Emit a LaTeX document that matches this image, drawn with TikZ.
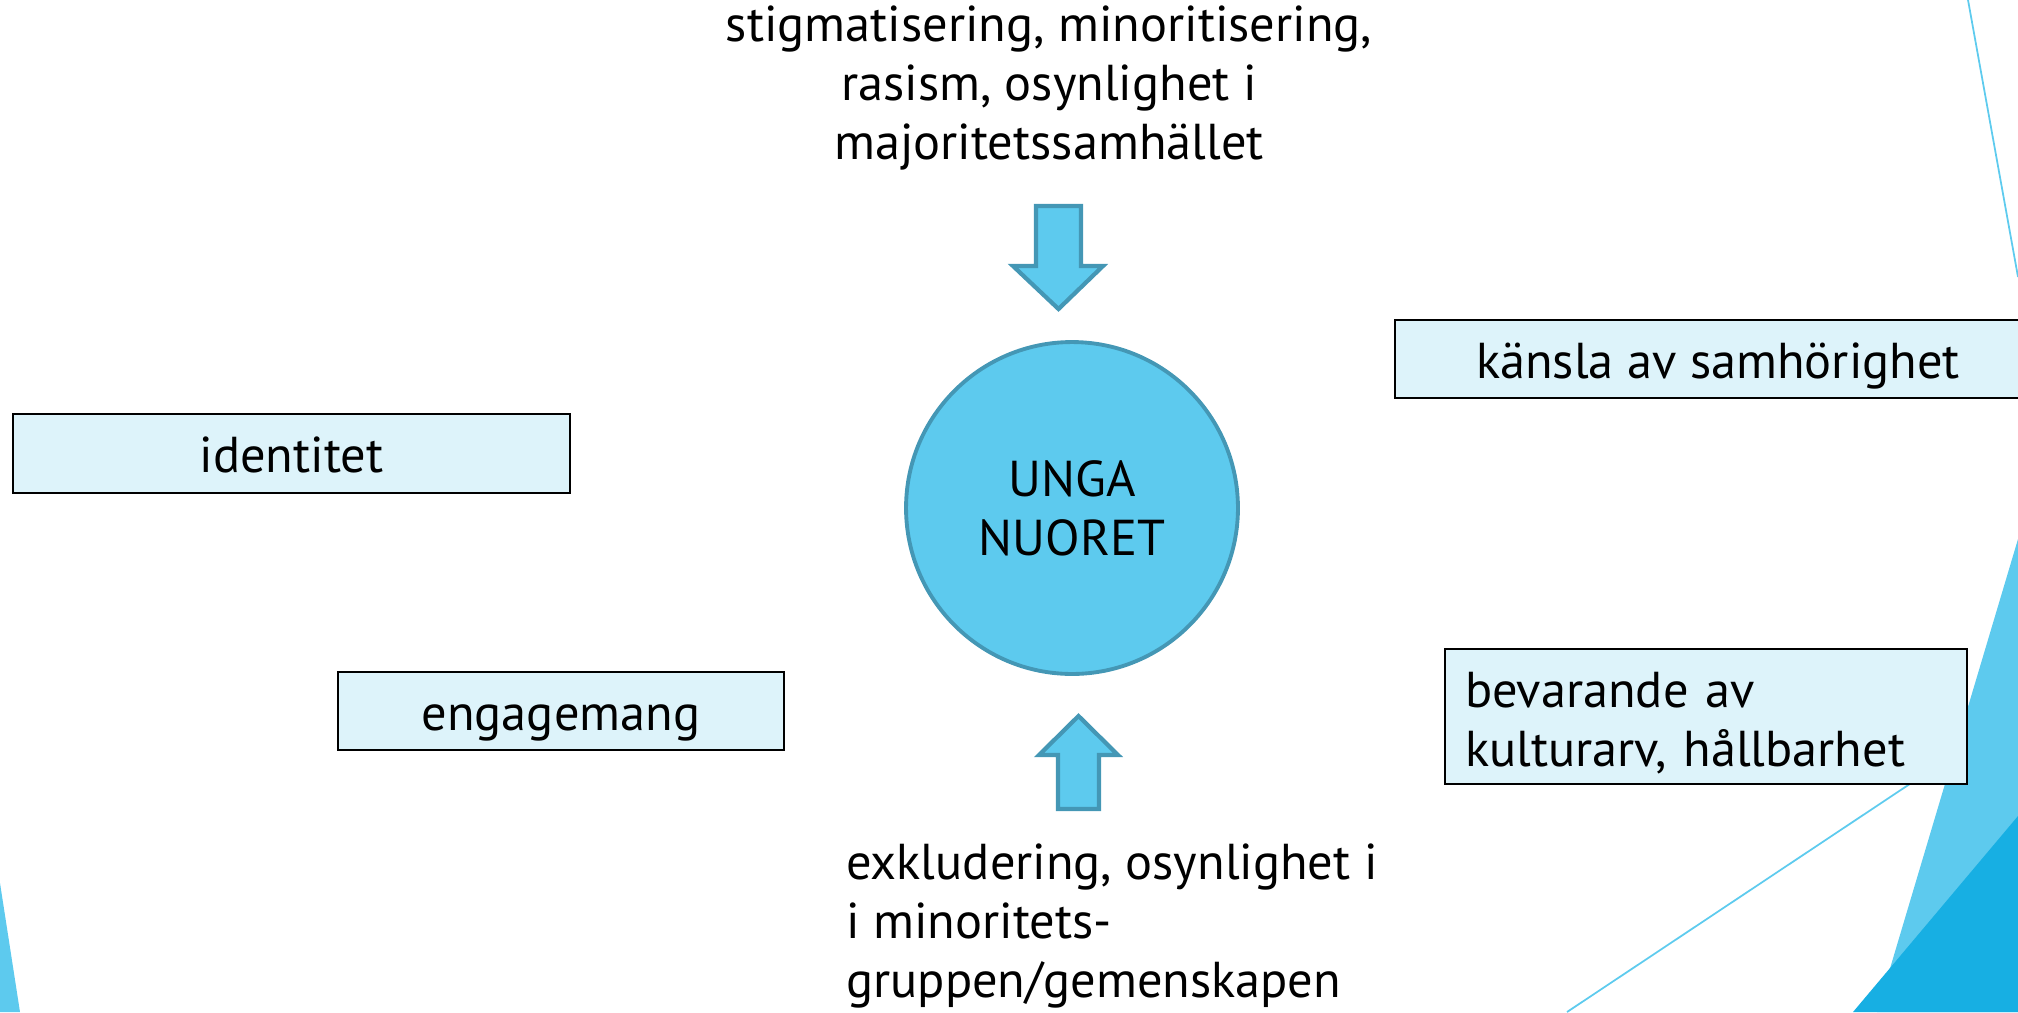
\documentclass[tikz,border=0pt]{standalone}
\usepackage{fontspec}
\setmainfont{PT Sans}
\definecolor{ungCyan}{HTML}{5DCAEE}
\definecolor{ungRim}{HTML}{4497B5}
\definecolor{ungPale}{HTML}{DDF3FA}
\definecolor{ungDeep}{HTML}{17AFE3}
\definecolor{ungLine}{HTML}{5ECBEE}
\tikzset{
  ung font/.style={font=\fontsize{28.7}{33.5}\selectfont},
  ung box/.style={draw=black, fill=ungPale, line width=1.1pt, inner sep=0pt, text height=27pt, text depth=5pt, ung font},
  ung hub/.style={circle, draw=ungRim, fill=ungCyan, line width=2.2pt, minimum size=6.64cm, inner sep=0pt, align=center, ung font},
  ung block/.style={draw=ungRim, fill=ungCyan, line width=2.4pt, line join=miter},
  ung text/.style={inner sep=0pt, ung font},
  ung line/.style={draw=ungLine, line width=1pt},
}
\begin{document}
\begin{tikzpicture}[x=0.02cm, y=-0.02cm]
  \useasboundingbox (0,0) rectangle (2018,1012);

  % Facets in the corners
  \draw[ung line] (1968,0) -- (2018,277);
  \draw[ung line] (2018,712) -- (1567,1012);
  \fill[ungCyan] (2018,539) -- (1877,1012) -- (2018,1012) -- cycle;
  \fill[ungDeep] (2018,816) -- (1853,1012) -- (2018,1012) -- cycle;
  \fill[ungCyan] (0,883) -- (20,1012) -- (0,1012) -- cycle;

  % Centre
  \node[ung hub] (unga) at (1072,508) {UNGA\\NUORET};

  % Pressure from above and below
  \node[ung text, align=center] (majoritet) at (1049,88)
    {stigmatisering, minoritisering,\\rasism, osynlighet i\\majoritetssamhället};
  \node[ung text, align=left, anchor=west] (minoritet) at (846,926)
    {exkludering, osynlighet i\\i minoritets-\\gruppen/gemenskapen};

  \draw[ung block] (1036,206) -- (1081,206) -- (1081,266) -- (1103,266)
    -- (1058.5,309) -- (1013,266) -- (1036,266) -- cycle;
  \draw[ung block] (1058,809) -- (1099,809) -- (1099,755) -- (1118,755)
    -- (1078.5,716) -- (1039,755) -- (1058,755) -- cycle;

  % Boxes
  \node[ung box, minimum width=11.14cm, minimum height=1.58cm] (identitet) at (291.5,453.5) {identitet};
  \node[ung box, minimum width=8.92cm, minimum height=1.56cm] (engagemang) at (561,711) {engagemang};
  \node[ung box, minimum width=12.92cm, minimum height=1.56cm] (samhorighet) at (1718,359) {känsla av samhörighet};
  \node[ung box, minimum height=2.7cm, inner xsep=0.4cm, text width=9.64cm, text depth=37.3pt, align=left] (kulturarv) at (1706,716.5)
    {bevarande av\\kulturarv, hållbarhet};
\end{tikzpicture}
\end{document}
